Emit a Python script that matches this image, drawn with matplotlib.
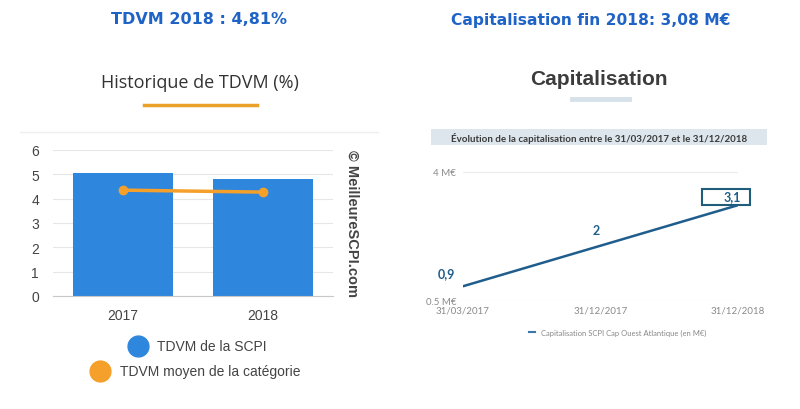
import matplotlib
matplotlib.use("Agg")
import matplotlib.pyplot as plt
from matplotlib.patches import Rectangle
from matplotlib.lines import Line2D
from matplotlib.transforms import ScaledTranslation, Affine2D

# ---- data ----
years = ["2017", "2018"]
tdvm_scpi = [5.04, 4.81]
tdvm_categorie = [4.35, 4.27]
cap_dates = ["31/03/2017", "31/12/2017", "31/12/2018"]
cap_values = [0.9, 2.0, 3.1]
cap_labels = ["0,9", "2", "3,1"]
cap_yticks = [0.5, 4]
cap_yticklabels = ["0.5 M€", "4 M€"]

W, H = 800, 410
fig = plt.figure(figsize=(W / 100, H / 100), dpi=100)
fig.patch.set_facecolor("white")

def fx(x):
    return x / W

def fy(y):
    return 1 - y / H

def ax_rect(x0, y0, x1, y1):
    return [fx(x0), fy(y1), (x1 - x0) / W, (y1 - y0) / H]

blue_title = "#1f63c6"

# ---- headers ----
fig.text(fx(199), fy(20), "TDVM 2018 : 4,81%", ha="center", va="center",
         fontsize=11.5, fontweight="heavy", color=blue_title, family="DejaVu Sans")
fig.text(fx(591), fy(20), "Capitalisation fin 2018: 3,08 M€", ha="center", va="center",
         fontsize=11.2, fontweight="heavy", color=blue_title, family="DejaVu Sans")

fig.text(fx(200), fy(83), "Historique de TDVM (%)", ha="center", va="center",
         fontsize=13, color="#333333", family="Open Sans")
fig.add_artist(Line2D([fx(144), fx(257)], [fy(106), fy(106)], color="#e9a227", lw=2.5))

fig.text(fx(599), fy(80), "Capitalisation", ha="center", va="center",
         fontsize=15, fontweight="bold", color="#3c3c3c", family="Liberation Sans")
fig.add_artist(Line2D([fx(572), fx(629)], [fy(100), fy(100)], color="#d6e1e9", lw=3.5))

# faint top frame line of left chart
fig.add_artist(Line2D([fx(20), fx(378)], [fy(133), fy(133)], color="#eeeeee", lw=1))

# ---- left chart ----
ax1 = fig.add_axes(ax_rect(53, 151, 333, 297))
xpos = list(range(len(years)))
ax1.bar(xpos, tdvm_scpi, width=0.714, color="#2f86dd", zorder=2)
ax1.plot(xpos, tdvm_categorie, color="#f5a02a", lw=2.5, marker="o", ms=6, zorder=3)
ax1.set_xlim(-0.5, 1.5)
ax1.set_ylim(0, 6)
ax1.set_yticks(range(0, 7))
ax1.set_xticks(xpos)
ax1.set_xticklabels(years)
ax1.grid(axis="y", color="#e6e6e6", lw=0.8, zorder=0)
for s in ["top", "right", "left"]:
    ax1.spines[s].set_visible(False)
ax1.spines["bottom"].set_color("#c8c8c8")
ax1.tick_params(axis="both", length=0, labelsize=10, labelcolor="#444444")
ax1.tick_params(axis="y", pad=10)
ax1.tick_params(axis="x", pad=9)
for t in ax1.get_xticklabels() + ax1.get_yticklabels():
    t.set_family("Liberation Sans")
ax1.set_facecolor("none")

fig.text(fx(352), fy(224), "© MeilleureSCPI.com", rotation=-90, ha="center", va="center",
         fontsize=10.5, fontweight="bold", color="#444444", family="Liberation Sans")

# legend left
fig.add_artist(Line2D([fx(138)], [fy(347)], marker="o", ms=15, color="#2f86dd", ls=""))
fig.text(fx(157), fy(347), "TDVM de la SCPI", ha="left", va="center",
         fontsize=10, color="#444444", family="Liberation Sans")
fig.add_artist(Line2D([fx(100)], [fy(372)], marker="o", ms=15, color="#f5a02a", ls=""))
fig.text(fx(120), fy(372), "TDVM moyen de la catégorie", ha="left", va="center",
         fontsize=10, color="#444444", family="Liberation Sans")

# ---- right chart ----
fig.add_artist(Rectangle((fx(431), fy(146)), (767 - 431) / W, 16 / H,
                         transform=fig.transFigure, facecolor="#dde6ec", edgecolor="none"))
fig.text(fx(599), fy(138), "Évolution de la capitalisation entre le 31/03/2017 et le 31/12/2018",
         ha="center", va="center", fontsize=7, fontweight="bold", color="#3a3a3a", family="Lato")

ax2 = fig.add_axes(ax_rect(463, 173, 738, 302))
cx = list(range(len(cap_dates)))
line_col = "#1f5d8c"
ax2.plot(cx, cap_values, color=line_col, lw=1.8, solid_capstyle="round")
ax2.set_xlim(0, 2)
ax2.set_ylim(0.5, 4)
ax2.set_yticks(cap_yticks)
ax2.set_yticklabels(cap_yticklabels)
ax2.set_xticks(cx)
ax2.set_xticklabels(cap_dates)
ax2.grid(axis="y", color="#ebebeb", lw=0.8)
for s in ax2.spines.values():
    s.set_visible(False)
ax2.tick_params(axis="both", length=0, labelsize=7, labelcolor="#8a8a8a")
ax2.tick_params(axis="y", pad=5)
ax2.tick_params(axis="x", pad=3)
for t in ax2.get_xticklabels() + ax2.get_yticklabels():
    t.set_family("Lato")
ax2.set_facecolor("none")

offsets = [(-12, 5), (-3, 7), (-4, 2)]
for i, (v, lab) in enumerate(zip(cap_values, cap_labels)):
    dx, dy = offsets[i]
    ax2.annotate(lab, (cx[i], v), xytext=(dx, dy), textcoords="offset points",
                 ha="center", va="bottom", fontsize=9, fontweight="bold", color=line_col,
                 family="Lato")

# box around the last label (pixel-sized, anchored at the last data point)
bx = Rectangle((0, 0), 48, 16, facecolor="none", edgecolor="#1f5d7a", lw=1.5,
               transform=Affine2D().translate(-36, 0)
               + ScaledTranslation(cx[-1], cap_values[-1], ax2.transData),
               clip_on=False)
ax2.add_patch(bx)

fig.add_artist(Line2D([fx(529), fx(535)], [fy(333), fy(333)], color="#3b77a8", lw=1.5))
fig.text(fx(541), fy(333), "Capitalisation SCPI Cap Ouest Atlantique (en M€)", ha="left", va="center",
         fontsize=5.5, color="#888888", family="Lato")

fig.savefig("out.png", dpi=100, facecolor="white")
